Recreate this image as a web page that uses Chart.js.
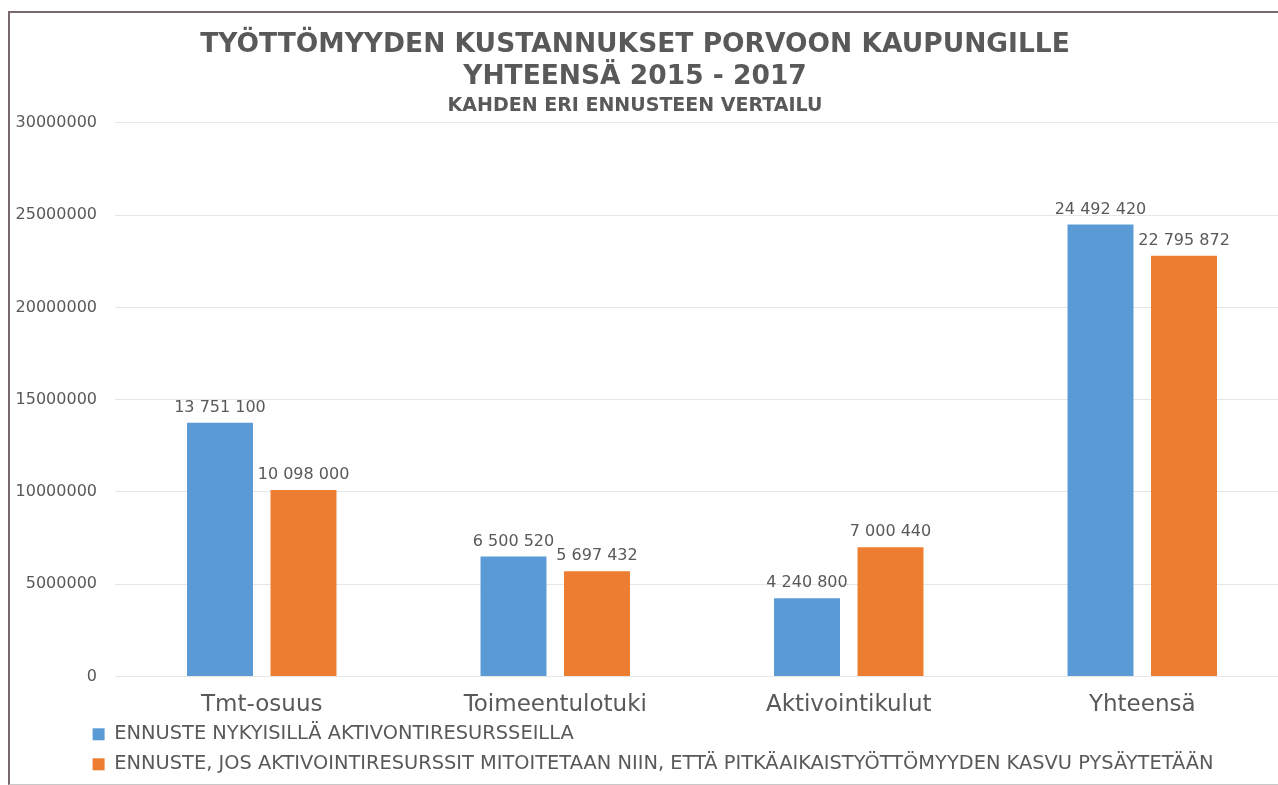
<!DOCTYPE html>
<html lang="fi">
<head>
<meta charset="utf-8">
<title>Työttömyyden kustannukset Porvoon kaupungille</title>
<script src="https://cdn.jsdelivr.net/npm/chart.js@4.4.1/dist/chart.umd.min.js"></script>
<style>
    html, body { margin: 0; padding: 0; background: #fff; overflow: hidden; }
    body { width: 1278px; height: 785px; position: relative; }
    /* kehys kuvan ympärillä */
    #frame {
        position: absolute; left: 8px; top: 11px; width: 1290px; height: 771px;
        border-top: 2px solid #76686c; border-left: 2px solid #76686c;
        border-bottom: 1px solid #c8c8c8;
    }
    /* piirtoalue jatkuu hieman ikkunan ulkopuolelle kuten alkuperäisessä rajauksessa */
    #wrap { position: absolute; left: -19px; top: 14px; width: 1308px; height: 790px; }
</style>
</head>
<body>
<div id="frame"></div>
<div id="wrap"><canvas id="chart"></canvas></div>
<script>
// ============================================
// DATA
// ============================================
const CATEGORIES = ['Tmt-osuus', 'Toimeentulotuki', 'Aktivointikulut', 'Yhteensä'];
const SERIES_NAMES = [
    'ENNUSTE NYKYISILLÄ AKTIVONTIRESURSSEILLA',
    'ENNUSTE, JOS AKTIVOINTIRESURSSIT MITOITETAAN NIIN, ETTÄ PITKÄAIKAISTYÖTTÖMYYDEN KASVU PYSÄYTETÄÄN'
];
const NYKYISET = [13751100, 6500520, 4240800, 24492420];   // sininen
const MITOITETTU = [10098000, 5697432, 7000440, 22795872]; // oranssi
const Y_TICKS = [0, 5000000, 10000000, 15000000, 20000000, 25000000, 30000000];

const BLUE = '#5b9bd5';
const ORANGE = '#ed7d31';
const TEXT = '#595959';

// tuhaterotin välilyönnillä
const fmt = v => String(v).replace(/\B(?=(\d{3})+(?!\d))/g, ' ');

// arvot pylväiden yläpuolelle
const barLabels = {
    id: 'barLabels',
    afterDatasetsDraw(chart) {
        const ctx = chart.ctx;
        ctx.save();
        ctx.font = '16px "DejaVu Sans"';
        ctx.fillStyle = TEXT;
        ctx.textAlign = 'center';
        ctx.textBaseline = 'bottom';
        chart.data.datasets.forEach((ds, i) => {
            chart.getDatasetMeta(i).data.forEach((bar, j) => {
                ctx.fillText(fmt(ds.data[j]), bar.x, bar.y - 7);
            });
        });
        ctx.restore();
    }
};

// selite: vasen reuna ja pystysijainti kuten kuvassa
const legendShift = {
    id: 'legendShift',
    afterLayout(chart) {
        chart.legend.left += 101;
        chart.legend.top -= 20;
        chart.legend.bottom -= 20;
    }
};

new Chart(document.getElementById('chart'), {
    type: 'bar',
    data: {
        labels: CATEGORIES,
        datasets: [
            { label: SERIES_NAMES[0], data: NYKYISET, backgroundColor: BLUE },
            { label: SERIES_NAMES[1], data: MITOITETTU, backgroundColor: ORANGE }
        ]
    },
    options: {
        responsive: true,
        maintainAspectRatio: false,
        animation: false,
        categoryPercentage: 0.569,
        barPercentage: 0.79,
        layout: { padding: { top: 2, bottom: 0 } },
        plugins: {
            title: {
                display: true,
                text: ['TYÖTTÖMYYDEN KUSTANNUKSET PORVOON KAUPUNGILLE', 'YHTEENSÄ 2015 - 2017'],
                color: TEXT,
                font: { family: '"DejaVu Sans"', size: 26.5, weight: 'bold', lineHeight: 1.21 },
                padding: { top: 13, bottom: 0 }
            },
            subtitle: {
                display: true,
                text: 'KAHDEN ERI ENNUSTEEN VERTAILU',
                color: TEXT,
                font: { family: '"DejaVu Sans"', size: 19, weight: 'bold' },
                padding: { top: 2, bottom: 5 }
            },
            legend: {
                position: 'bottom',
                align: 'start',
                labels: {
                    color: TEXT,
                    font: { family: '"DejaVu Sans"', size: 19.4 },
                    boxWidth: 12,
                    boxHeight: 12,
                    padding: 10.6
                }
            },
            tooltip: { enabled: false }
        },
        scales: {
            x: {
                grid: { display: false, drawTicks: false },
                border: { display: false },
                ticks: { color: TEXT, font: { family: '"DejaVu Sans"', size: 23 }, padding: 15 }
            },
            y: {
                min: 0,
                max: 30000000,
                afterFit(scale) { scale.width = 134; },
                afterBuildTicks(scale) { scale.ticks = Y_TICKS.map(v => ({ value: v })); },
                grid: { color: '#e6e6e6', drawTicks: false },
                border: { display: false },
                ticks: {
                    color: TEXT,
                    font: { family: '"DejaVu Sans"', size: 16 },
                    padding: 18,
                    callback: v => String(v)
                }
            }
        }
    },
    plugins: [barLabels, legendShift]
});
</script>
</body>
</html>
